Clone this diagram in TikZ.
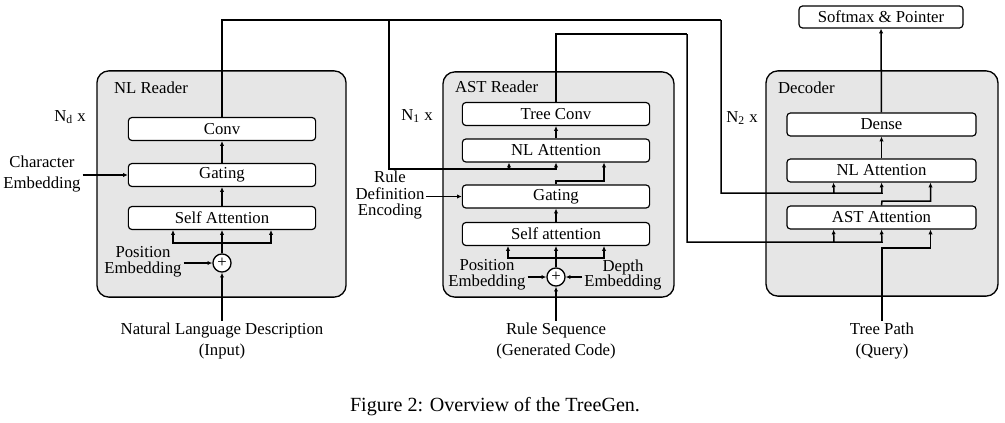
\documentclass[tikz,border=0pt]{standalone}
\usepackage{fontspec}
\setmainfont{Liberation Serif}
\usetikzlibrary{arrows.meta,positioning,calc}
\definecolor{readergray}{RGB}{230,230,230}

\begin{document}
\begin{tikzpicture}[
    x=0.021cm, y=-0.021cm,
    reader/.style={draw, line width=0.8pt, rounded corners=0.25cm, fill=readergray, inner sep=0pt},
    box/.style={draw, line width=0.7pt, rounded corners=2pt, fill=white, minimum width=3.93cm, minimum height=0.48cm, inner sep=0pt, font=\fontsize{10}{12}\selectfont},
    plus/.style={draw, circle, line width=0.8pt, fill=white, minimum size=0.38cm, inner sep=0pt},
    lbl/.style={align=center, inner sep=1pt},
    wire/.style={line width=0.9pt},
    arr/.style={-{Latex[length=1mm, width=0.9mm]}, line width=0.9pt}
  ]
  \useasboundingbox (0,0) rectangle (1005,423);

  % the three readers
  \node[reader, minimum width=5.23cm, minimum height=4.75cm] (nlreader) at (221.5,184) {};
  \node[reader, minimum width=4.85cm, minimum height=4.73cm] (astreader) at (558.5,184.5) {};
  \node[reader, minimum width=4.87cm, minimum height=4.73cm] (decoder) at (882,183.5) {};
  \node[lbl, anchor=west] (nltitle) at (112,88) {NL Reader};
  \node[lbl, anchor=west] (asttitle) at (453,87) {AST Reader};
  \node[lbl, anchor=west] (dectitle) at (776,88) {Decoder};

  % NL reader
  \node[box] (conv) at (222,129) {Conv};
  \node[box] (nlgate) at (222,175) {Gating};
  \node[box] (nlself) at (222,218) {Self Attention};
  \node[plus] (nlplus) at (222,263) {+};
  \node[lbl, font=\fontsize{10}{12}\selectfont] (charemb) at (42,174) {Character\\Embedding};
  \node[lbl, font=\fontsize{10}{9.5}\selectfont] (nlpos) at (143,262) {Position\\Embedding};
  \node[lbl, font=\fontsize{10}{12.5}\selectfont] (nlin) at (222,341) {Natural Language Description\\(Input)};
  \node[lbl] (nd) at (70,117) {N\textsubscript{d} x};

  % AST reader
  \node[box] (treeconv) at (556,114) {Tree Conv};
  \node[box] (astnl) at (556,150.5) {NL Attention};
  \node[box] (astgate) at (556,196.5) {Gating};
  \node[box] (astself) at (556,234) {Self attention};
  \node[plus] (astplus) at (556,277) {+};
  \node[lbl, font=\fontsize{10}{10}\selectfont] (ruledef) at (390,195) {Rule\\Definition\\Encoding};
  \node[lbl, font=\fontsize{10}{9.5}\selectfont] (astpos) at (487,275) {Position\\Embedding};
  \node[lbl, font=\fontsize{10}{9.5}\selectfont] (depth) at (623,275) {Depth\\Embedding};
  \node[lbl, font=\fontsize{10}{12.5}\selectfont] (rulein) at (556,341) {Rule Sequence\\(Generated Code)};
  \node[lbl] (n1) at (417,116) {N\textsubscript{1} x};

  % decoder
  \node[box, minimum width=3.97cm] (dense) at (881.5,124.5) {Dense};
  \node[box, minimum width=3.97cm] (dnlatt) at (881.5,170.5) {NL Attention};
  \node[box, minimum width=3.97cm] (dastatt) at (881.5,217.5) {AST Attention};
  \node[box, minimum width=3.44cm, minimum height=0.46cm] (softmax) at (881,17) {Softmax \& Pointer};
  \node[lbl, font=\fontsize{10}{12.5}\selectfont] (tpath) at (882,341) {Tree Path\\(Query)};
  \node[lbl] (n2) at (742,118) {N\textsubscript{2} x};

  \node[lbl, font=\fontsize{12}{14}\selectfont] (caption) at (495,407) {Figure 2: Overview of the TreeGen.};

  % bends
  \coordinate (nlfork) at (222,243);
  \coordinate (nlbus) at (721,20);
  \coordinate (nlsplit) at (389,20);
  \coordinate (astnlfork) at (556,169);
  \coordinate (gatebend) at (556,181);
  \coordinate (astfork) at (556,258);
  \coordinate (astbus) at (687,34);
  \coordinate (dnlfork) at (882,193);
  \coordinate (dastfork) at (882,242);
  \coordinate (qbend) at (882,248);
  \coordinate (astoutbend) at (882,201);

  % NL reader wiring
  \draw[arr] (nlin) -- (nlplus);
  \draw[arr] (nlplus) -- (nlself);
  \draw[arr] (nlfork) -| ($(nlself.south)+(-49,0)$);
  \draw[arr] (nlfork) -| ($(nlself.south)+(49,0)$);
  \draw[arr] (nlself) -- (nlgate);
  \draw[arr] (nlgate) -- (conv);
  \draw[arr] (charemb.east |- nlgate.west) -- (nlgate.west);
  \draw[arr] (nlpos.east |- nlplus) -- (nlplus.west);
  \draw[wire] (conv.north) |- (nlbus);
  \draw[arr] (nlsplit) |- (astnlfork) -- (astnl.south);
  \draw[arr] ($(astnlfork)+(-47,0)$) -- ($(astnl.south)+(-47,0)$);
  \draw[arr] (nlbus) |- (dnlfork) -- (dnlatt.south);
  \draw[arr] ($(dnlfork)+(-48,0)$) -- ($(dnlatt.south)+(-48,0)$);

  % AST reader wiring
  \draw[arr] (rulein) -- (astplus);
  \draw[arr] (astplus) -- (astself);
  \draw[arr] (astfork) -| ($(astself.south)+(-48,0)$);
  \draw[arr] (astfork) -| ($(astself.south)+(48,0)$);
  \draw[arr] (astpos.east |- astplus) -- (astplus.west);
  \draw[arr] (depth.west |- astplus) -- (astplus.east);
  \draw[arr] (astself) -- (astgate);
  \draw[arr] (ruledef.east |- astgate.west) -- (astgate.west);
  \draw[arr] (astgate.north) -- (gatebend) -| ($(astnl.south)+(48,0)$);
  \draw[arr] (astnl) -- (treeconv);
  \draw[wire] (treeconv.north) |- (astbus);
  \draw[arr] (astbus) |- (dastfork) -- (dastatt.south);
  \draw[arr] ($(dastfork)+(-48,0)$) -- ($(dastatt.south)+(-48,0)$);

  % decoder wiring
  \draw[arr] (tpath) -- (qbend) -| ($(dastatt.south)+(49,0)$);
  \draw[arr] (dastatt.north) -- (astoutbend) -| ($(dnlatt.south)+(49,0)$);
  \draw[arr] (dnlatt) -- (dense);
  \draw[arr] (dense) -- (softmax);
\end{tikzpicture}
\end{document}
